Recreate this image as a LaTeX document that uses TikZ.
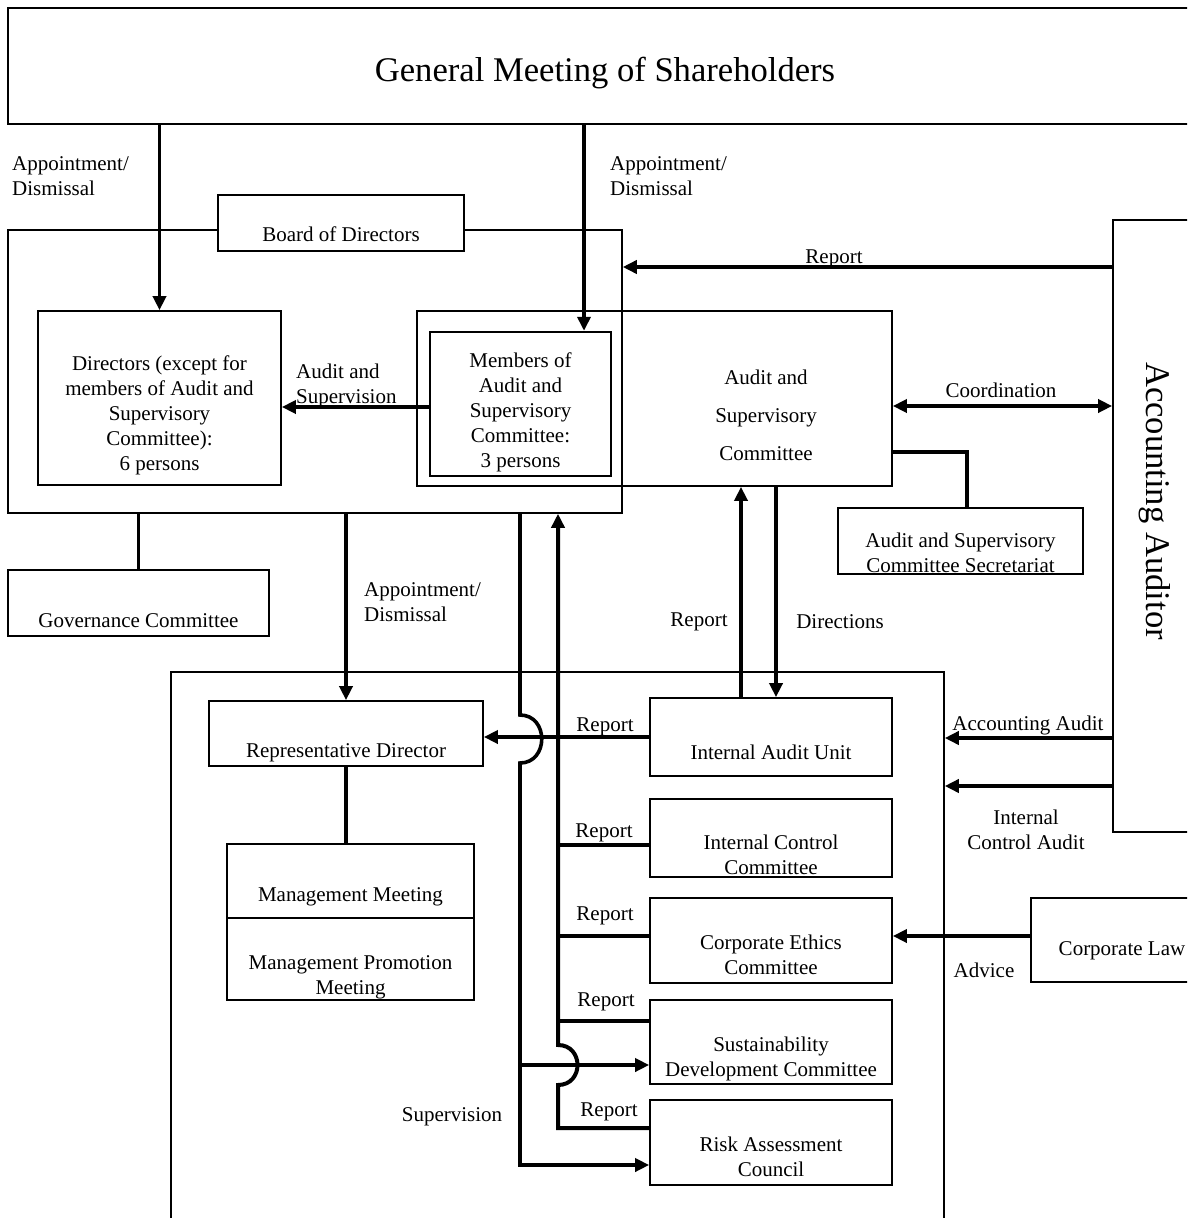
\documentclass[tikz,border=0pt]{standalone}
\usepackage{fontspec}
\setmainfont{Liberation Serif}
\usepackage{tikz}
\usetikzlibrary{arrows.meta,positioning,calc}
\tikzset{every picture/.style={font=\fontsize{21}{25}\selectfont}}

\begin{document}
\begin{tikzpicture}[
  x=1pt, y=-1pt,
  box/.style={
    rectangle, draw, line width=1.7pt,
    inner sep=2pt, align=center
  },
  textdrop/.style={text depth=0pt, text height=#1},
  lbl/.style={inner sep=0pt, align=center},
  arrow/.style={-{Triangle[length=14pt,width=13pt]}, line width=3.6pt},
  link/.style={line width=3.2pt}
]
\useasboundingbox (0,0) rectangle (1187,1218);
\clip (0,0) rectangle (1187,1218);

% Top level
\node[box, minimum width=1194pt, minimum height=116pt, textdrop=30pt,
      font=\fontsize{34.6}{40}\selectfont] (GMS) at (605,66) {General Meeting of Shareholders};

% Board of Directors
\node[box, line width=1.5pt, minimum width=614pt, minimum height=283pt] (BRD) at (315,371.5) {};
\node[box, fill=white, minimum width=246pt, minimum height=56pt, textdrop=36pt] (BOD) at (341,223) {Board of Directors};
\node[box, minimum width=243pt, minimum height=174pt, textdrop=144pt] (DIR) at (159.5,398)
  {Directors (except for\\members of Audit and\\Supervisory\\Committee):\\6 persons};
\node[box, minimum width=475pt, minimum height=175pt] (ASC) at (654.5,398.5) {};
\node[lbl, font=\fontsize{21}{38}\selectfont] (ASCtxt) at (766,415) {Audit and\\Supervisory\\Committee};
\node[box, line width=2.4pt, minimum width=181pt, minimum height=144pt, textdrop=126pt] (MEM) at (520.5,404)
  {Members of\\Audit and\\Supervisory\\Committee:\\3 persons};
\node[box, minimum width=245pt, minimum height=66pt, textdrop=62pt] (SEC) at (960.5,541)
  {Audit and Supervisory\\Committee Secretariat};
\node[box, minimum width=261pt, minimum height=66pt, textdrop=48pt] (GOV) at (138.5,603) {Governance Committee};

% Accounting Auditor
\node[box, minimum width=84pt, minimum height=612pt] (AA) at (1155,526) {};
\node[lbl, rotate=-90, font=\fontsize{34.6}{40}\selectfont] (AAtxt) at (1155,501) {Accounting Auditor};

% Execution
\node[box, line width=1.5pt, minimum width=773pt, minimum height=568pt] (EXE) at (557.5,956) {};
\node[box, minimum width=274pt, minimum height=65pt, textdrop=47pt] (REP) at (346,733.5) {Representative Director};
\node[box, minimum width=247pt, minimum height=74pt, textdrop=40pt] (MM) at (350.5,881) {Management Meeting};
\node[box, minimum width=247pt, minimum height=82pt, textdrop=70pt] (MPM) at (350.5,959)
  {Management Promotion\\Meeting};
\node[box, minimum width=242pt, minimum height=78pt, textdrop=44pt] (IAU) at (771,737) {Internal Audit Unit};
\node[box, minimum width=242pt, minimum height=78pt, textdrop=72pt] (ICC) at (771,838) {Internal Control\\Committee};
\node[box, minimum width=242pt, minimum height=85pt, textdrop=67pt] (CEC) at (771,940.5) {Corporate Ethics\\Committee};
\node[box, minimum width=242pt, minimum height=84pt, textdrop=68pt] (SDC) at (771,1042)
  {Sustainability\\Development Committee};
\node[box, minimum width=242pt, minimum height=85pt, textdrop=67pt] (RAC) at (771,1142.5) {Risk Assessment\\Council};
\node[box, minimum width=182pt, minimum height=84pt, textdrop=30pt] (LAW) at (1122,940) {Corporate Law};

% Helper coordinates
\coordinate (cGM) at (584,0);
\coordinate (cSec) at (967,0);
\coordinate (cUp) at (741,0);
\coordinate (cDn) at (776,0);
\coordinate (rRep) at (0,267);
\coordinate (rAud) at (0,407);
\coordinate (rCo) at (0,406);
\coordinate (rSec) at (0,452);
\coordinate (rAcc) at (0,738);
\coordinate (rIca) at (0,786);
\coordinate (rAdv) at (0,936);
\coordinate (rSus) at (0,1065);
\coordinate (s1) at (520,715);
\coordinate (s2) at (520,763);
\coordinate (s3) at (520,1165);
\coordinate (b0) at (558,1128);
\coordinate (b1) at (558,1085);
\coordinate (b2) at (558,1045);
\coordinate (rb1) at (0,845);
\coordinate (rb2) at (0,936);
\coordinate (rb3) at (0,1021);

% Arrows
\draw[arrow] (GMS.south -| DIR.north) -- (DIR.north);
\draw[arrow] (GMS.south -| cGM) -- (MEM.north -| cGM);
\draw[arrow] (AA.west |- rRep) -- (BRD.east |- rRep);
\draw[arrow] (MEM.west |- rAud) -- (DIR.east |- rAud);
\draw[{Triangle[length=14pt,width=13pt]}-{Triangle[length=14pt,width=13pt]}, line width=3.6pt]
  (ASC.east |- rCo) -- (AA.west |- rCo);
\draw[link] (ASC.east |- rSec) -| (SEC.north -| cSec);
\draw[link] (BRD.south -| GOV.north) -- (GOV.north);
\draw[arrow] (BRD.south -| REP.north) -- (REP.north);
\draw[arrow] (IAU.north -| cUp) -- (ASC.south -| cUp);
\draw[arrow] (ASC.south -| cDn) -- (IAU.north -| cDn);
\draw[link] (REP.south) -- (REP.south |- MM.north);
\draw[arrow] (IAU.west) -- (REP.east |- IAU.west);
\draw[arrow] (AA.west |- rAcc) -- (EXE.east |- rAcc);
\draw[arrow] (AA.west |- rIca) -- (EXE.east |- rIca);
\draw[arrow] (LAW.west |- rAdv) -- (CEC.east |- rAdv);

% Supervision line
\draw[arrow] (BRD.south -| s1) -- (s1) .. controls (549,715) and (549,763) .. (s2)
  -- (s3) -- (RAC.west |- s3);
\draw[arrow] (s2 |- rSus) -- (SDC.west |- rSus);

% Report bus
\draw[arrow, line width=4pt] (RAC.west |- b0) -- (b0) -- (b1)
  .. controls (584,1085) and (584,1045) .. (b2) -- (BRD.south -| b2);
\draw[link] (ICC.west |- rb1) -- (b0 |- rb1);
\draw[link] (CEC.west |- rb2) -- (b0 |- rb2);
\draw[link] (SDC.west |- rb3) -- (b0 |- rb3);

% Labels
\node[lbl, align=left, anchor=west] (l1) at (12,176) {Appointment/\\Dismissal};
\node[lbl, align=left, anchor=west] (l2) at (610,176) {Appointment/\\Dismissal};
\node[lbl, align=left, anchor=west] (l3) at (296,386) {Audit and\\Supervision};
\node[lbl] (l4) at (834,259) {Report};
\node[lbl] (l5) at (1001,390) {Coordination};
\node[lbl, align=left, anchor=west] (l6) at (364,602) {Appointment/\\Dismissal};
\node[lbl] (l7) at (699,622) {Report};
\node[lbl] (l8) at (840,622) {Directions};
\node[lbl] (l9) at (605,727) {Report};
\node[lbl] (l10) at (604,833) {Report};
\node[lbl] (l11) at (605,916) {Report};
\node[lbl] (l12) at (606,1002) {Report};
\node[lbl] (l13) at (609,1112) {Report};
\node[lbl] (l14) at (452,1117) {Supervision};
\node[lbl] (l15) at (1028,725) {Accounting Audit};
\node[lbl] (l16) at (1026,830) {Internal\\Control Audit};
\node[lbl] (l17) at (984,970) {Advice};
\end{tikzpicture}
\end{document}
